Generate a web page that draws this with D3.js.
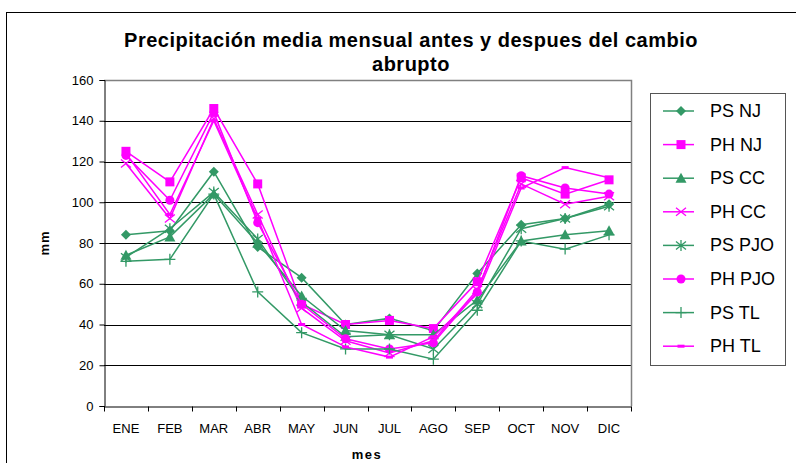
<!DOCTYPE html>
<html>
<head>
<meta charset="utf-8">
<script src="https://cdn.jsdelivr.net/npm/d3@7"></script>
<style>
  html, body { margin: 0; padding: 0; background: #fff; }
  svg { display: block; font-family: "Liberation Sans", Arial, sans-serif; }
</style>
</head>
<body>
<svg id="chart" width="796" height="463"></svg>
<script>
// Monthly categories
const months = ["ENE", "FEB", "MAR", "ABR", "MAY", "JUN", "JUL", "AGO", "SEP", "OCT", "NOV", "DIC"];

// Mean monthly precipitation (mm) per station, before (PS) and after (PH) the shift
const psNJ  = [84, 86, 115, 78, 63, 40, 43, 37, 65, 89, 92, 99];
const phNJ  = [125, 110, 146, 109, 50, 40, 42, 38, 61, 112, 104, 111];
const psCC  = [74, 83, 104, 80, 54, 37, 35, 35, 52, 81, 84, 86];
const phCC  = [119, 92, 141, 94, 48, 32, 26, 32, 57, 109, 99, 103];
const psPJO = [73, 87, 105, 82, 51, 34, 35, 28, 50, 87, 92, 98];
const phPJO = [123, 101, 144, 90, 50, 33, 28, 31, 56, 113, 107, 104];
const psTL  = [71, 72, 104, 56, 36, 28, 28, 23, 47, 81, 77, 84];
const phTL  = [124, 94, 140, 92, 40, 29, 24, 34, 55, 107, 117, 112];

const seriesNames = ["PS NJ", "PH NJ", "PS CC", "PH CC", "PS PJO", "PH PJO", "PS TL", "PH TL"];
const seriesValues = [psNJ, phNJ, psCC, phCC, psPJO, phPJO, psTL, phTL];
const seriesMarkers = ["diamond", "square", "triangle", "x", "asterisk", "circle", "plus", "dash"];

const yTicks = [0, 20, 40, 60, 80, 100, 120, 140, 160];

const titleLines = ["Precipitación media mensual antes y despues del cambio", "abrupto"];

const GREEN = "#339966";
const MAGENTA = "#FF00FF";

const svg = d3.select("#chart");

// Outer chart frame
svg.append("rect")
  .attr("x", 6.5).attr("y", 12.5)
  .attr("width", 800).attr("height", 470)
  .attr("fill", "#fff").attr("stroke", "#000").attr("stroke-width", 1);

const plot = { left: 104, top: 80, right: 631, bottom: 406 };

const x = d3.scaleBand().domain(months).range([plot.left, plot.right]);
const y = d3.scaleLinear().domain([0, 160]).range([plot.bottom, plot.top]);

// Horizontal gridlines
svg.append("g")
  .selectAll("line")
  .data(yTicks.filter(d => d > 0))
  .join("line")
  .attr("x1", plot.left).attr("x2", plot.right)
  .attr("y1", d => Math.round(y(d)) + 0.5).attr("y2", d => Math.round(y(d)) + 0.5)
  .attr("stroke", "#000").attr("stroke-width", 1);

// Plot frame (top and right in gray)
svg.append("path")
  .attr("d", `M${plot.left},${plot.top + 0.5}H${plot.right + 0.5}V${plot.bottom}`)
  .attr("fill", "none").attr("stroke", "#808080").attr("stroke-width", 1.5);

// Y axis
const yAxis = d3.axisLeft(y).tickValues(yTicks).tickSize(5).tickPadding(6);
const gy = svg.append("g")
  .attr("transform", `translate(${plot.left + 0.5},0)`)
  .call(yAxis);
gy.select(".domain").attr("stroke", "#000");
gy.selectAll(".tick line").attr("stroke", "#000");
gy.selectAll(".tick text").attr("font-size", 13).attr("fill", "#000")
  .attr("font-family", "Liberation Sans, Arial, sans-serif");

// X axis with ticks at category boundaries
const xAxis = d3.axisBottom(x).tickSize(0).tickPadding(17);
const gx = svg.append("g")
  .attr("transform", `translate(0,${plot.bottom + 0.5})`)
  .call(xAxis);
gx.select(".domain").attr("stroke", "#000");
gx.selectAll(".tick text").attr("font-size", 13).attr("fill", "#000")
  .attr("font-family", "Liberation Sans, Arial, sans-serif");
gx.selectAll(".bound")
  .data(months.map(m => x(m)).concat([x(months[months.length - 1]) + x.bandwidth()]))
  .join("line")
  .attr("class", "bound")
  .attr("x1", d => Math.round(d) + 0.5).attr("x2", d => Math.round(d) + 0.5)
  .attr("y1", 0).attr("y2", 5)
  .attr("stroke", "#000");

// Axis titles
svg.append("text")
  .attr("x", 367).attr("y", 459)
  .attr("text-anchor", "middle")
  .attr("font-size", 13).attr("font-weight", "bold")
  .attr("letter-spacing", 1.5)
  .text("mes");

svg.append("text")
  .attr("transform", "translate(49,243) rotate(-90)")
  .attr("text-anchor", "middle")
  .attr("font-size", 13).attr("font-weight", "bold")
  .attr("letter-spacing", 1)
  .text("mm");

// Chart title
svg.append("g")
  .selectAll("text")
  .data(titleLines)
  .join("text")
  .attr("x", 411)
  .attr("y", (d, i) => 47 + i * 24)
  .attr("text-anchor", "middle")
  .attr("font-size", 20).attr("font-weight", "bold")
  .attr("letter-spacing", 0.5)
  .text(d => d);

// Marker drawing
function drawMarker(g, type, color) {
  switch (type) {
    case "diamond":
      g.append("path").attr("d", "M0,-5L5,0L0,5L-5,0Z").attr("fill", color);
      break;
    case "square":
      g.append("rect").attr("x", -4.5).attr("y", -4.5).attr("width", 9).attr("height", 9).attr("fill", color);
      break;
    case "triangle":
      g.append("path").attr("d", "M0,-5.5L5.5,4.5L-5.5,4.5Z").attr("fill", color);
      break;
    case "x":
      g.append("path").attr("d", "M-5,-4L5,4M-5,4L5,-4").attr("stroke", color).attr("stroke-width", 1.3).attr("fill", "none");
      break;
    case "asterisk":
      g.append("path").attr("d", "M-5,-4L5,4M-5,4L5,-4M0,-5.5L0,5.5").attr("stroke", color).attr("stroke-width", 1.3).attr("fill", "none");
      break;
    case "circle":
      g.append("circle").attr("r", 4.5).attr("fill", color);
      break;
    case "plus":
      g.append("path").attr("d", "M-5.5,0L5.5,0M0,-5.5L0,5.5").attr("stroke", color).attr("stroke-width", 1.3).attr("fill", "none");
      break;
    case "dash":
      g.append("rect").attr("x", -3.5).attr("y", -1.5).attr("width", 7).attr("height", 3).attr("fill", color);
      break;
  }
}

const line = d3.line()
  .x((d, i) => x(months[i]) + x.bandwidth() / 2)
  .y(d => y(d));

const seriesG = svg.append("g");
seriesValues.forEach((vals, si) => {
  const color = seriesNames[si].startsWith("PS") ? GREEN : MAGENTA;
  const g = seriesG.append("g");
  g.append("path")
    .datum(vals)
    .attr("d", line)
    .attr("fill", "none")
    .attr("stroke", color)
    .attr("stroke-width", 1.5);
  vals.forEach((v, i) => {
    const mg = g.append("g")
      .attr("transform", `translate(${x(months[i]) + x.bandwidth() / 2},${y(v)})`);
    drawMarker(mg, seriesMarkers[si], color);
  });
});

// Legend
const legend = svg.append("g");
legend.append("rect")
  .attr("x", 650.5).attr("y", 93.5)
  .attr("width", 135).attr("height", 272)
  .attr("fill", "#fff").attr("stroke", "#555").attr("stroke-width", 1);

seriesNames.forEach((name, i) => {
  const color = name.startsWith("PS") ? GREEN : MAGENTA;
  const cy = 111 + i * 33.6;
  const row = legend.append("g").attr("transform", `translate(0,${cy})`);
  row.append("line")
    .attr("x1", 663).attr("x2", 694)
    .attr("y1", 0).attr("y2", 0)
    .attr("stroke", color).attr("stroke-width", 1.5);
  drawMarker(row.append("g").attr("transform", "translate(681,0)"), seriesMarkers[i], color);
  row.append("text")
    .attr("x", 710).attr("y", 6)
    .attr("font-size", 18)
    .attr("fill", "#000")
    .text(name);
});
</script>
</body>
</html>
